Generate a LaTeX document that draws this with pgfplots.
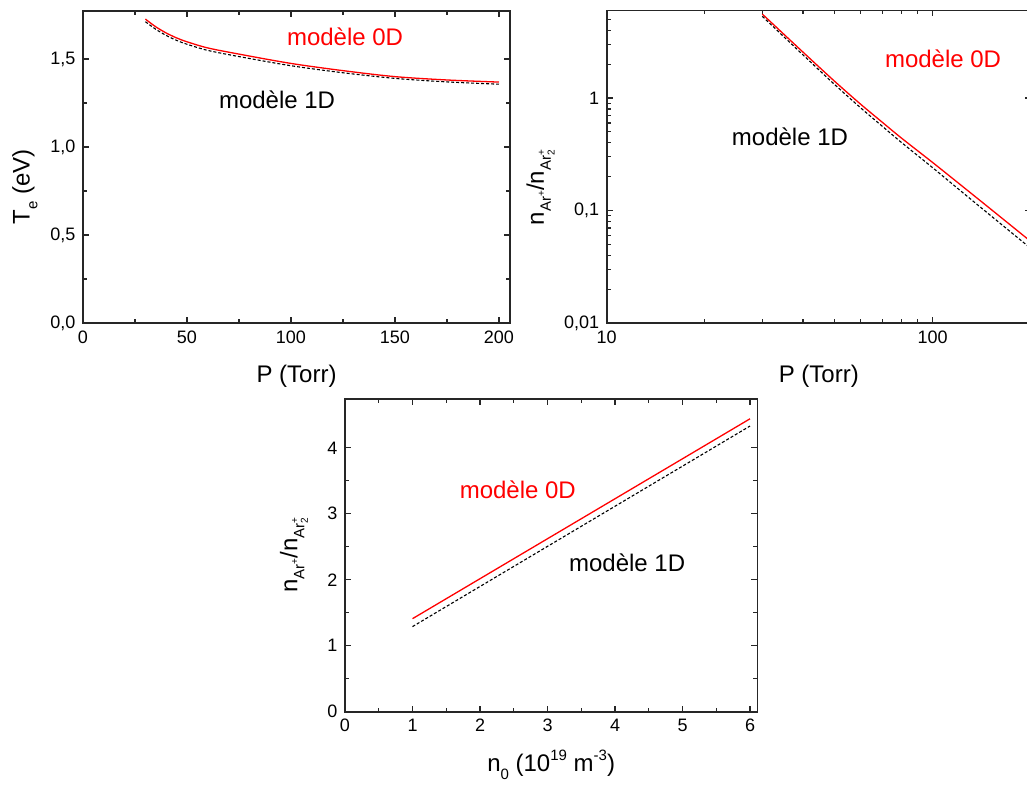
\documentclass[border=0pt]{standalone}
\usepackage{fontspec}
\setmainfont{Liberation Sans}
\usepackage{pgfplots}
\pgfplotsset{compat=1.18}
\newcommand{\tk}{\fontsize{18}{21}\selectfont}
\newcommand{\lb}{\fontsize{24}{28}\selectfont}
\newcommand{\sm}{\fontsize{15}{17}\selectfont}
\newcommand{\xs}{\fontsize{10}{11}\selectfont}
\newcommand{\ratio}{n\raisebox{-0.55ex}{\sm Ar\raisebox{0.8ex}{\xs +}}/n\raisebox{-0.55ex}{\sm Ar\rlap{\raisebox{0.8ex}{\xs +}}\raisebox{-0.45ex}{\xs 2}}}
\pgfplotsset{mystyle/.style={
  scale only axis, anchor=south west,
  axis line style={line width=1.6pt, black!85},
  tick style={line width=1.2pt, black!85},
  tick align=inside, major tick length=6pt, minor tick length=4pt,
  ticklabel style={font=\tk, text=black},
  xticklabel style={yshift=-4pt},
  yticklabel style={xshift=-4pt},
  /pgf/number format/assume math mode=true,
  label style={font=\lb},
  clip=false,
}}
\begin{document}
\begin{tikzpicture}
% Plot 1
\begin{axis}[mystyle, at={(83pt,464pt)}, width=427pt, height=312pt,
  xmin=0, xmax=205.3, ymin=0, ymax=1.773,
  xtick={0,50,100,150,200}, minor x tick num=1,
  ytick={0,0.5,1,1.5}, minor y tick num=1,
  yticklabel style={/pgf/number format/.cd, fixed, fixed zerofill, precision=1, use comma},
  xlabel={P (Torr)}, ylabel={T\raisebox{-0.6ex}{\sm e} (eV)},
  xlabel style={at={(axis description cs:0.5,-0.170)}, anchor=center},
  ylabel style={at={(axis description cs:-0.136,0.436)}, anchor=center}]
\addplot[red, line width=1.3pt, smooth] coordinates {(30,1.727)(35,1.683)(40,1.648)(45,1.62)(50,1.598)(60,1.563)(75,1.528)(100,1.475)(125,1.434)(150,1.40)(175,1.381)(200,1.369)};
\addplot[black, line width=1.1pt, dash pattern=on 3pt off 2pt, smooth] coordinates {(30,1.712)(35,1.669)(40,1.634)(45,1.606)(50,1.584)(60,1.549)(75,1.514)(100,1.462)(125,1.422)(150,1.39)(175,1.37)(200,1.357)};
\node[red, font=\lb] at (axis cs:126,1.625) {modèle 0D};
\node[black, font=\lb] at (axis cs:93.3,1.267) {modèle 1D};
\end{axis}
% Plot 2
\begin{axis}[mystyle, xmode=log, ymode=log, at={(606.7pt,464pt)}, width=424.1pt, height=312.5pt,
  xmin=10, xmax=200, ymin=0.01, ymax=6,
  xtick={10,100}, xticklabels={10,100},
  minor xtick={20,30,40,50,60,70,80,90,200},
  ytick={0.01,0.1,1}, yticklabels={{0,01},{0,1},1},
  minor ytick={0.02,0.03,0.04,0.05,0.06,0.07,0.08,0.09,0.2,0.3,0.4,0.5,0.6,0.7,0.8,0.9,2,3,4,5,6},
  xlabel={P (Torr)}, ylabel={\ratio},
  xlabel style={at={(axis description cs:0.5,-0.170)}, anchor=center},
  ylabel style={at={(axis description cs:-0.156,0.433)}, anchor=center}]
\addplot[red, line width=1.3pt, smooth] coordinates {(30,5.58)(40,2.56)(50,1.41)(60,0.885)(70,0.61)(80,0.443)(100,0.267)(120,0.175)(150,0.104)(200,0.053)};
\addplot[black, line width=1.1pt, dash pattern=on 3pt off 2pt, smooth] coordinates {(30,5.33)(40,2.42)(50,1.32)(60,0.822)(70,0.562)(80,0.405)(100,0.24)(120,0.155)(150,0.091)(200,0.046)};
\node[red, font=\lb] at (axis cs:107.6,2.25) {modèle 0D};
\node[black, font=\lb] at (axis cs:36.5,0.448) {modèle 1D};
\end{axis}
% Plot 3
\begin{axis}[mystyle, at={(345pt,75.3pt)}, width=412.3pt, height=312.7pt,
  xmin=0, xmax=6.108, ymin=0, ymax=4.74,
  xtick={0,1,2,3,4,5,6}, minor x tick num=1,
  ytick={0,1,2,3,4}, minor y tick num=1,
  xlabel={n\raisebox{-0.6ex}{\sm 0} (10\raisebox{0.9ex}{\sm 19} m\raisebox{0.9ex}{\sm -3})},
  ylabel={\ratio},
  xlabel style={at={(axis description cs:0.5,-0.170)}, anchor=center},
  ylabel style={at={(axis description cs:-0.124,0.50)}, anchor=center}]
\addplot[red, line width=1.3pt] coordinates {(1,1.41)(6,4.44)};
\addplot[black, line width=1.1pt, dash pattern=on 3pt off 2pt] coordinates {(1,1.29)(6,4.33)};
\node[red, font=\lb] at (axis cs:2.56,3.37) {modèle 0D};
\node[black, font=\lb] at (axis cs:4.18,2.25) {modèle 1D};
\end{axis}
\pgfresetboundingbox
\path[use as bounding box] (0,0) rectangle (1027pt,787pt);
\end{tikzpicture}
\end{document}
